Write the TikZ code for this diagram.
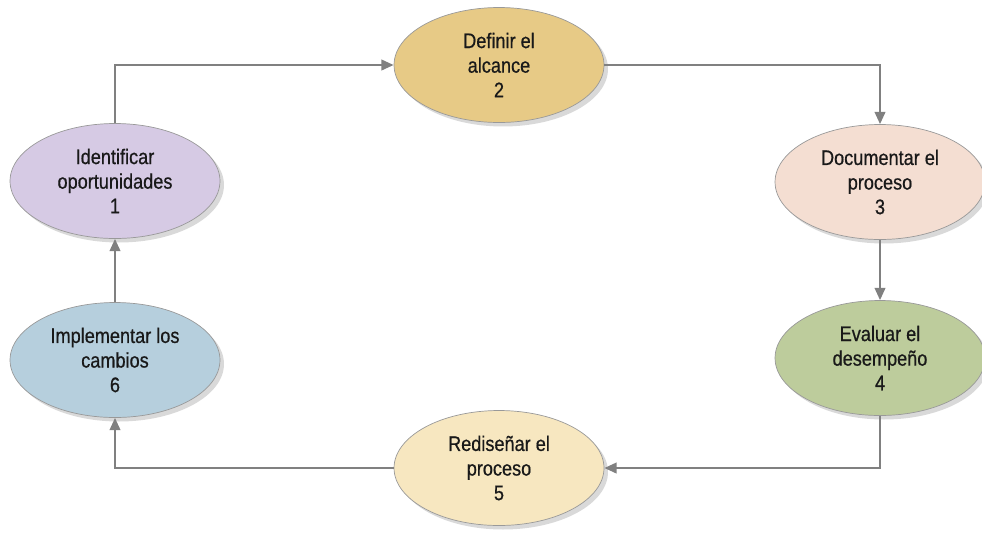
\documentclass[tikz,border=0pt]{standalone}
\usepackage{fontspec}
\setmainfont[FakeStretch=0.86,FakeBold=0.6]{Liberation Sans}
\usepackage{xcolor}
\usetikzlibrary{arrows.meta,shadows,shapes.geometric}
\definecolor{cPurple}{RGB}{214,202,228}
\definecolor{cGold}{RGB}{231,202,134}
\definecolor{cPeach}{RGB}{244,222,210}
\definecolor{cGreen}{RGB}{189,204,156}
\definecolor{cCream}{RGB}{247,231,192}
\definecolor{cBlue}{RGB}{182,207,221}
\definecolor{cLine}{RGB}{128,128,128}

\begin{document}
\begin{tikzpicture}[x=0.02cm,y=-0.02cm,
	stage/.style={ellipse,draw=gray!80,thin,minimum width=4.2cm,minimum height=2.3cm,inner sep=0pt,
		align=center,font=\fontsize{12}{14}\selectfont,text=black!90,
		drop shadow={shadow xshift=0.08cm,shadow yshift=-0.08cm,fill=black!25,opacity=0.6}},
	flow/.style={draw=cLine,line width=1.3pt,-{Triangle[length=7pt,width=6pt]}}]
	\useasboundingbox (0,0) rectangle (982,532);
	\node[stage,fill=cPurple] (ident) at (115,181) {Identificar\\oportunidades\\1};
	\node[stage,fill=cGold] (alcance) at (499,65) {Definir el\\alcance\\2};
	\node[stage,fill=cPeach] (docu) at (880,182) {Documentar el\\proceso\\3};
	\node[stage,fill=cGreen] (eval) at (880,358) {Evaluar el\\desempeño\\4};
	\node[stage,fill=cCream] (redis) at (499,468) {Rediseñar el\\proceso\\5};
	\node[stage,fill=cBlue] (impl) at (115,360) {Implementar los\\cambios\\6};
	% ciclo
	\draw[flow] (ident.north) |- (alcance.west);
	\draw[flow] (alcance.east) -| (docu.north);
	\draw[flow] (docu) -- (eval);
	\draw[flow] (eval.south) |- (redis.east);
	\draw[flow] (redis.west) -| (impl.south);
	\draw[flow] (impl) -- (ident);
\end{tikzpicture}
\end{document}
